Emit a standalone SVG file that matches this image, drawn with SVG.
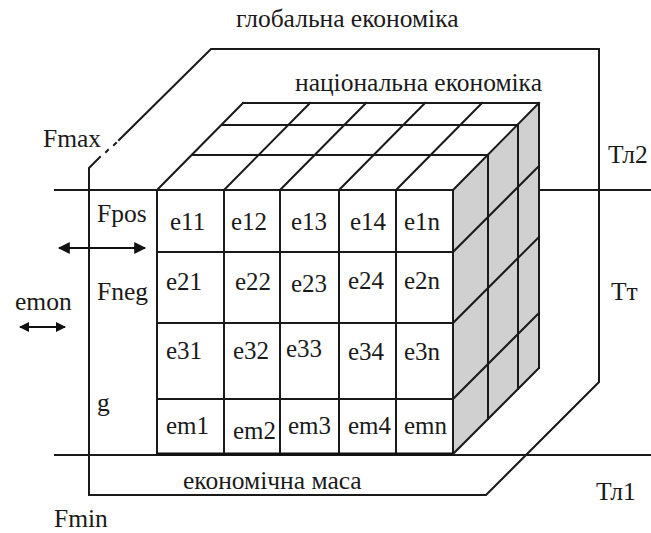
<svg xmlns="http://www.w3.org/2000/svg" width="651" height="533" viewBox="0 0 651 533">
<defs>
<style>
.ln{stroke:#1a1a1a;stroke-width:2;fill:none;stroke-linecap:square}
.cell{fill:#fff;stroke:#1a1a1a;stroke-width:2}
.t{font-family:"Liberation Serif","Times New Roman","DejaVu Serif",serif;font-size:25.5px;fill:#1a1a1a}
.c{font-family:"Liberation Serif","Times New Roman","DejaVu Serif",serif;font-size:25px;fill:#1a1a1a}
.gray{fill:#d0d0d0;stroke:none}
</style>
<marker id="ah" viewBox="0 0 10 10" refX="9" refY="5" markerWidth="7" markerHeight="6" markerUnits="strokeWidth" orient="auto-start-reverse">
<path d="M0,0 L10,5 L0,10 Z" fill="#111"/>
</marker>
<marker id="ah2" viewBox="0 0 10 10" refX="9" refY="5" markerWidth="6" markerHeight="5" markerUnits="strokeWidth" orient="auto-start-reverse">
<path d="M0,0 L10,5 L0,10 Z" fill="#111"/>
</marker>
<clipPath id="clipmn"><rect x="398" y="399" width="55" height="55"/></clipPath>
</defs>
<rect width="651" height="533" fill="#fff"/>

<g id="frame">
<path class="ln" d="M119,140 L211,49 L599,49 L599,382 L486,495 L89,495 L89,168 L100,157"/>
<path class="ln" d="M106,152 L108,150 M114,145 L116,143"/>
</g>

<g id="levels">
<line class="ln" x1="55" y1="190" x2="651" y2="190"/>
<line class="ln" x1="55" y1="455" x2="651" y2="455"/>
</g>

<g id="cube-side">
<polygon class="gray" points="453,190 539,103 539,368 453,454"/>
<path class="ln" d="M488,155 L488,419 M518,125 L518,389 M539,103 L539,368"/>
<path class="ln" d="M453,252 L539,166 M453,323 L539,237 M453,399 L539,313 M453,454 L539,368"/>
</g>

<g id="cube-top">
<path class="ln" d="M157,190 L243,103 M224,190 L310,103 M280,190 L366,103 M339,190 L425,103 M396,190 L482,103 M453,190 L539,103"/>
<path class="ln" d="M243,103 L539,103 M222,125 L518,125 M192,155 L488,155"/>
</g>

<g id="cube-front">
<g id="c11"><rect class="cell" x="157" y="190" width="67" height="62"/><text class="c" x="170" y="230">e11</text></g>
<g id="c12"><rect class="cell" x="224" y="190" width="56" height="62"/><text class="c" x="231" y="230">e12</text></g>
<g id="c13"><rect class="cell" x="280" y="190" width="59" height="62"/><text class="c" x="291" y="230">e13</text></g>
<g id="c14"><rect class="cell" x="339" y="190" width="57" height="62"/><text class="c" x="350" y="230">e14</text></g>
<g id="c1n"><rect class="cell" x="396" y="190" width="57" height="62"/><text class="c" x="404" y="230">e1n</text></g>

<g id="c21"><rect class="cell" x="157" y="252" width="67" height="71"/><text class="c" x="166" y="290">e21</text></g>
<g id="c22"><rect class="cell" x="224" y="252" width="56" height="71"/><text class="c" x="235" y="290">e22</text></g>
<g id="c23"><rect class="cell" x="280" y="252" width="59" height="71"/><text class="c" x="291" y="292">e23</text></g>
<g id="c24"><rect class="cell" x="339" y="252" width="57" height="71"/><text class="c" x="348" y="289">e24</text></g>
<g id="c2n"><rect class="cell" x="396" y="252" width="57" height="71"/><text class="c" x="404" y="289">e2n</text></g>

<g id="c31"><rect class="cell" x="157" y="323" width="67" height="76"/><text class="c" x="166" y="359">e31</text></g>
<g id="c32"><rect class="cell" x="224" y="323" width="56" height="76"/><text class="c" x="233" y="359">e32</text></g>
<g id="c33"><rect class="cell" x="280" y="323" width="59" height="76"/><text class="c" x="286" y="357">e33</text></g>
<g id="c34"><rect class="cell" x="339" y="323" width="57" height="76"/><text class="c" x="348" y="360">e34</text></g>
<g id="c3n"><rect class="cell" x="396" y="323" width="57" height="76"/><text class="c" x="404" y="360">e3n</text></g>

<g id="cm1"><rect class="cell" x="157" y="399" width="67" height="55"/><text class="c" x="166" y="434">em1</text></g>
<g id="cm2"><rect class="cell" x="224" y="399" width="56" height="55"/><text class="c" x="233" y="439">em2</text></g>
<g id="cm3"><rect class="cell" x="280" y="399" width="59" height="55"/><text class="c" x="288" y="434">em3</text></g>
<g id="cm4"><rect class="cell" x="339" y="399" width="57" height="55"/><text class="c" x="348" y="434">em4</text></g>
<g id="cmn"><rect class="cell" x="396" y="399" width="57" height="55"/><text class="c" x="404" y="434" clip-path="url(#clipmn)">emn</text></g>
<line x1="157" y1="454" x2="453" y2="454" stroke="#111" stroke-width="3"/>
</g>

<g id="labels">
<text class="t" x="236" y="27">глобальна економіка</text>
<text class="t" x="295" y="91">національна економіка</text>
<text class="t" x="43" y="147">Fmax</text>
<text class="t" x="608" y="163">Тл2</text>
<text class="t" x="611" y="300">Тт</text>
<text class="t" x="596" y="500">Тл1</text>
<text class="t" x="54" y="527">Fmin</text>
<text class="t" x="97" y="222">Fpos</text>
<text class="t" x="97" y="300">Fneg</text>
<text class="t" x="15" y="310">emon</text>
<text class="t" x="97" y="411">g</text>
<text class="t" x="183" y="489">економічна маса</text>
</g>

<g id="connectors">
<line x1="59" y1="248" x2="145" y2="248" stroke="#111" stroke-width="2" marker-start="url(#ah)" marker-end="url(#ah)"/>
<line x1="20" y1="327" x2="65" y2="327" stroke="#111" stroke-width="2" marker-start="url(#ah2)" marker-end="url(#ah2)"/>
</g>
</svg>
